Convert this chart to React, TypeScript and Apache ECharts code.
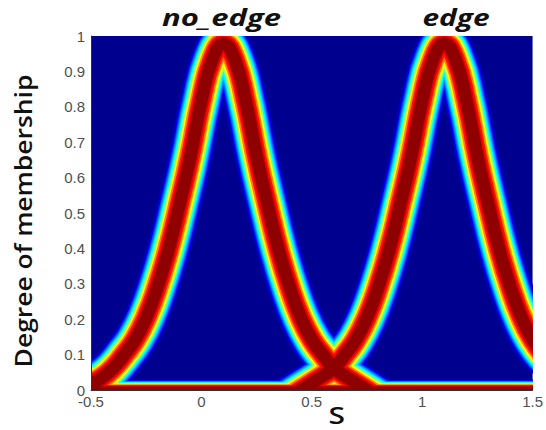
import React, { useEffect, useRef } from "react";
import * as echarts from "echarts";

// S positions and membership degrees (centre of the dark-red ridge)
const noEdgeS = [-0.55, -0.5, -0.45, -0.4, -0.35, -0.3, -0.25, -0.2, -0.15, -0.1, -0.05, 0, 0.05, 0.1, 0.15, 0.2, 0.25, 0.3, 0.35, 0.4, 0.45, 0.5, 0.55, 0.6, 0.65, 0.7, 0.75, 0.8, 0.85, 0.9, 0.95];
const noEdgeMu = [0.008, 0.018, 0.035, 0.062, 0.1, 0.143, 0.205, 0.29, 0.395, 0.523, 0.66, 0.818, 0.935, 0.978, 0.935, 0.818, 0.66, 0.523, 0.395, 0.29, 0.205, 0.143, 0.1, 0.062, 0.04, 0.02, 0.0, -0.02, -0.04, -0.06, -0.08];

const edgeS = [0.25, 0.3, 0.35, 0.4, 0.45, 0.5, 0.55, 0.6, 0.65, 0.7, 0.75, 0.8, 0.85, 0.9, 0.95, 1.0, 1.05, 1.1, 1.15, 1.2, 1.25, 1.3, 1.35, 1.4, 1.45, 1.5, 1.55];
const edgeMu = [-0.08, -0.06, -0.04, -0.02, 0.0, 0.02, 0.04, 0.062, 0.1, 0.143, 0.205, 0.29, 0.395, 0.523, 0.66, 0.818, 0.935, 0.978, 0.935, 0.818, 0.66, 0.523, 0.395, 0.29, 0.205, 0.143, 0.1];

const floorS = [-0.55, 1.55];
const floorMu = [0.002, 0.002];

const setNames = ["no_edge", "edge"];
const xAxisName = "S";
const yAxisName = "Degree of membership";

// jet-like colour layers, outer to inner
const bandColors = ["#0000B4", "#0000E6", "#0040FF", "#0080FF", "#00C0FF", "#00FFFF", "#80FF80", "#FFFF00", "#FF8000", "#FF1000", "#DC0000", "#8F0000"];
const bandWidths = [44, 41, 38, 36, 34, 32, 29, 26, 22.5, 19, 15.5, 12.5];

const GRID = { left: 91, right: 8, top: 36, bottom: 40 };
const W = 546;
const H = 430;

export default function App() {
  const ref = useRef<HTMLDivElement>(null);
  useEffect(() => {
    if (!ref.current) return;
    const chart = echarts.init(ref.current, undefined, { renderer: "svg" });
    const curves = [
      { s: floorS, mu: floorMu, k: 0.45 },
      { s: noEdgeS, mu: noEdgeMu, k: 1 },
      { s: edgeS, mu: edgeMu, k: 1 },
    ];
    // one drawing item per (colour layer, curve), outer layers first
    const items: { layer: number; curve: number }[] = [];
    bandColors.forEach((_, li) => curves.forEach((__, ci) => items.push({ layer: li, curve: ci })));

    chart.setOption({
      animation: false,
      backgroundColor: "#ffffff",
      grid: { ...GRID, show: true, backgroundColor: "#00008F", borderWidth: 0 },
      xAxis: {
        type: "value",
        min: -0.5,
        max: 1.5,
        interval: 0.5,
        splitLine: { show: false },
        axisTick: { show: false },
        axisLine: { show: true, onZero: false, lineStyle: { color: "#333", width: 1 } },
        axisLabel: { color: "#505050", fontSize: 15, fontFamily: "Liberation Sans", margin: 4, showMinLabel: true, showMaxLabel: true },
        z: 10,
      },
      yAxis: {
        type: "value",
        min: 0,
        max: 1,
        interval: 0.1,
        splitLine: { show: false },
        axisTick: { show: false },
        axisLine: { show: true, onZero: false, lineStyle: { color: "#333", width: 1 } },
        axisLabel: { color: "#505050", fontSize: 15, fontFamily: "Liberation Sans", margin: 6 },
        z: 10,
      },
      series: [
        {
          type: "custom",
          coordinateSystem: "cartesian2d",
          clip: true,
          silent: true,
          z: 2,
          data: items.map((it) => [curves[it.curve].s[0], curves[it.curve].mu[0], it.layer, it.curve]),
          renderItem: (params: any, api: any) => {
            const it = items[params.dataIndex];
            const c = curves[it.curve];
            const points = c.s.map((s, j) => api.coord([s, c.mu[j]]));
            return {
              type: "polyline",
              shape: { points, smooth: 0.5 },
              style: {
                stroke: bandColors[it.layer],
                lineWidth: bandWidths[it.layer] * c.k,
                fill: null,
                lineCap: "round",
                lineJoin: "round",
              },
            };
          },
        },
      ],
      graphic: [
        {
          type: "text", x: 221.5, y: 17, scaleX: 1.35, z: 100,
          style: { text: setNames[0], fontSize: 23, fontStyle: "italic", fontWeight: "bold", fontFamily: "Open Sans", fill: "#111", align: "center", verticalAlign: "middle" },
        },
        {
          type: "text", x: 456, y: 17, scaleX: 1.3, z: 100,
          style: { text: setNames[1], fontSize: 23, fontStyle: "italic", fontWeight: "bold", fontFamily: "Open Sans", fill: "#111", align: "center", verticalAlign: "middle" },
        },
        {
          type: "text", x: 23, y: 221, rotation: Math.PI / 2, scaleX: 1.15, z: 100,
          style: { text: yAxisName, fontSize: 23, fontWeight: 600, fontFamily: "Open Sans", fill: "#111", align: "center", verticalAlign: "middle" },
        },
        {
          type: "text", x: 336.7, y: 415, scaleX: 1.25, z: 100,
          style: { text: xAxisName, fontSize: 24, fontWeight: 600, fontFamily: "Open Sans", fill: "#111", align: "center", verticalAlign: "middle" },
        },
      ],
    });
    return () => chart.dispose();
  }, []);
  return <div ref={ref} style={{ position: "absolute", left: 0, top: 0, width: W, height: H }} />;
}
